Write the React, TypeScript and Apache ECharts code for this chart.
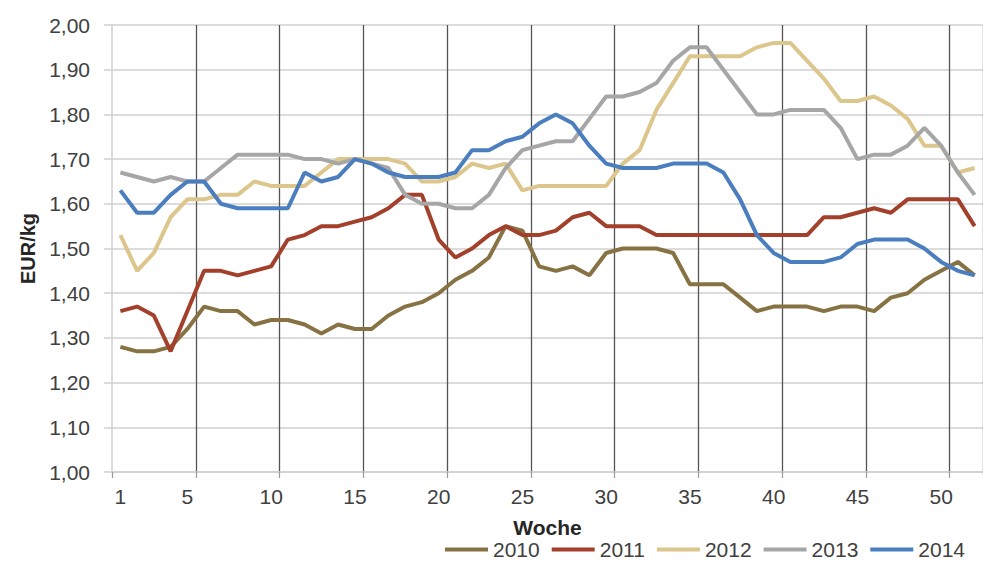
import React, { useEffect, useRef } from "react";
import * as echarts from "echarts";

const weeks: string[] = Array.from({ length: 52 }, (_, i) => String(i + 1));

const years = ["2010", "2011", "2012", "2013", "2014"];

const s2010 = [1.28, 1.27, 1.27, 1.28, 1.32, 1.37, 1.36, 1.36, 1.33, 1.34, 1.34, 1.33, 1.31, 1.33, 1.32, 1.32, 1.35, 1.37, 1.38, 1.40, 1.43, 1.45, 1.48, 1.55, 1.54, 1.46, 1.45, 1.46, 1.44, 1.49, 1.50, 1.50, 1.50, 1.49, 1.42, 1.42, 1.42, 1.39, 1.36, 1.37, 1.37, 1.37, 1.36, 1.37, 1.37, 1.36, 1.39, 1.40, 1.43, 1.45, 1.47, 1.44];
const s2011 = [1.36, 1.37, 1.35, 1.27, 1.36, 1.45, 1.45, 1.44, 1.45, 1.46, 1.52, 1.53, 1.55, 1.55, 1.56, 1.57, 1.59, 1.62, 1.62, 1.52, 1.48, 1.50, 1.53, 1.55, 1.53, 1.53, 1.54, 1.57, 1.58, 1.55, 1.55, 1.55, 1.53, 1.53, 1.53, 1.53, 1.53, 1.53, 1.53, 1.53, 1.53, 1.53, 1.57, 1.57, 1.58, 1.59, 1.58, 1.61, 1.61, 1.61, 1.61, 1.55];
const s2012 = [1.53, 1.45, 1.49, 1.57, 1.61, 1.61, 1.62, 1.62, 1.65, 1.64, 1.64, 1.64, 1.67, 1.70, 1.70, 1.70, 1.70, 1.69, 1.65, 1.65, 1.66, 1.69, 1.68, 1.69, 1.63, 1.64, 1.64, 1.64, 1.64, 1.64, 1.69, 1.72, 1.81, 1.87, 1.93, 1.93, 1.93, 1.93, 1.95, 1.96, 1.96, 1.92, 1.88, 1.83, 1.83, 1.84, 1.82, 1.79, 1.73, 1.73, 1.67, 1.68];
const s2013 = [1.67, 1.66, 1.65, 1.66, 1.65, 1.65, 1.68, 1.71, 1.71, 1.71, 1.71, 1.70, 1.70, 1.69, 1.70, 1.69, 1.68, 1.62, 1.60, 1.60, 1.59, 1.59, 1.62, 1.68, 1.72, 1.73, 1.74, 1.74, 1.79, 1.84, 1.84, 1.85, 1.87, 1.92, 1.95, 1.95, 1.90, 1.85, 1.80, 1.80, 1.81, 1.81, 1.81, 1.77, 1.70, 1.71, 1.71, 1.73, 1.77, 1.73, 1.67, 1.62];
const s2014 = [1.63, 1.58, 1.58, 1.62, 1.65, 1.65, 1.60, 1.59, 1.59, 1.59, 1.59, 1.67, 1.65, 1.66, 1.70, 1.69, 1.67, 1.66, 1.66, 1.66, 1.67, 1.72, 1.72, 1.74, 1.75, 1.78, 1.80, 1.78, 1.73, 1.69, 1.68, 1.68, 1.68, 1.69, 1.69, 1.69, 1.67, 1.61, 1.53, 1.49, 1.47, 1.47, 1.47, 1.48, 1.51, 1.52, 1.52, 1.52, 1.50, 1.47, 1.45, 1.44];

const seriesData = [s2010, s2011, s2012, s2013, s2014];
const colors = ["#877243", "#a3402b", "#dcc68b", "#a6a6a6", "#4a7ebf"];

const FONT = "'Liberation Sans', Arial, sans-serif";
const TEXT = "#404040";

export default function App() {
  const ref = useRef<HTMLDivElement>(null);
  useEffect(() => {
    document.body.style.margin = "0";
    if (!ref.current) return;
    const chart = echarts.init(ref.current, null, { renderer: "svg" });
    chart.setOption({
      animation: false,
      backgroundColor: "#ffffff",
      grid: { left: 112, top: 25, width: 881, height: 447, containLabel: false },
      legend: {
        data: years,
        left: 445,
        top: 539,
        padding: 0,
        icon: "rect",
        itemWidth: 43,
        itemHeight: 4,
        itemGap: 12,
        textStyle: { fontFamily: FONT, fontSize: 21, lineHeight: 21, color: TEXT },
      },
      xAxis: {
        type: "category",
        data: weeks,
        boundaryGap: true,
        name: "Woche",
        nameLocation: "middle",
        nameGap: 45,
        nameTextStyle: { fontFamily: FONT, fontSize: 21, fontWeight: "bold", color: "#262626" },
        axisLine: { show: true, lineStyle: { color: "#d0d0d0", width: 1.5 } },
        axisTick: {
          show: true,
          length: 6,
          interval: (i: number) => i % 5 === 0,
          lineStyle: { color: "#9a9a9a", width: 1.2 },
        },
        axisLabel: {
          interval: (i: number) => i === 0 || (i + 1) % 5 === 0,
          margin: 14,
          fontFamily: FONT,
          fontSize: 21,
          color: TEXT,
        },
        splitLine: {
          show: true,
          interval: (i: number) => i > 0 && i % 5 === 0,
          lineStyle: { color: "#555555", width: 1.3 },
        },
      },
      yAxis: {
        type: "value",
        min: 1,
        max: 2,
        interval: 0.1,
        name: "EUR/kg",
        nameLocation: "middle",
        nameGap: 73,
        nameTextStyle: { fontFamily: FONT, fontSize: 20, fontWeight: "bold", color: "#262626" },
        axisLine: { show: true, lineStyle: { color: "#d0d0d0", width: 1.5 } },
        axisTick: { show: true, length: 8, lineStyle: { color: "#d0d0d0", width: 1.5 } },
        axisLabel: {
          margin: 22,
          fontFamily: FONT,
          fontSize: 21,
          color: TEXT,
          formatter: (v: number) => v.toFixed(2).replace(".", ","),
        },
        splitLine: { show: true, lineStyle: { color: "#d0d0d0", width: 1.5 } },
      },
      series: years.map((y, i) => ({
        name: y,
        type: "line",
        data: seriesData[i],
        showSymbol: false,
        symbol: "none",
        lineStyle: { width: 4, color: colors[i] },
        itemStyle: { color: colors[i] },
        z: 2 + i,
      })),
    });
    return () => chart.dispose();
  }, []);
  return <div ref={ref} style={{ position: "fixed", left: 0, top: 0, width: 983, height: 566 }} />;
}
